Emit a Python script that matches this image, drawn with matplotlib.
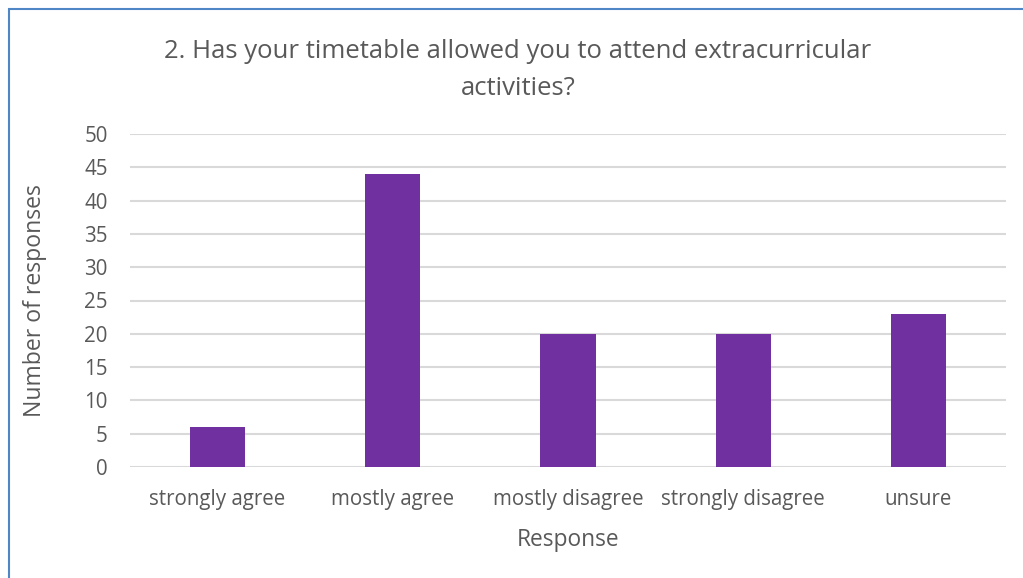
import matplotlib
matplotlib.use("Agg")
import matplotlib.pyplot as plt
from matplotlib.patches import Rectangle

categories = ["strongly agree", "mostly agree", "mostly disagree", "strongly disagree", "unsure"]
values = [6, 44, 20, 20, 23]
yticks = [0, 5, 10, 15, 20, 25, 30, 35, 40, 45, 50]

title = "2. Has your timetable allowed you to attend extracurricular\nactivities?"
xlabel = "Response"
ylabel = "Number of responses"

W, H = 1023, 578
fig = plt.figure(figsize=(W / 100, H / 100), dpi=100)
plt.rcParams['font.family'] = ['Open Sans', 'DejaVu Sans']
txt = "#595959"

ax = fig.add_axes([130 / W, 1 - 467 / H, (1006 - 130) / W, (467 - 134) / H])
x = list(range(len(categories)))
ax.bar(x, values, width=0.315, color="#7030A0", zorder=3)
ax.set_xlim(-0.5, len(categories) - 0.5)
ax.set_ylim(0, 50)
ax.set_yticks(yticks)
ax.set_xticks(x)
ax.set_xticklabels(categories)
ax.tick_params(axis="both", length=0, colors=txt, labelsize=14.8)
ax.tick_params(axis="x", pad=16)
ax.tick_params(axis="y", pad=16)
ax.grid(axis="y", color="#d9d9d9", linewidth=1.5, zorder=0)
for s in ax.spines.values():
    s.set_visible(False)

fig.text(35 / W, 1 - 301 / H, ylabel, rotation=90, ha="center", va="center", color=txt, fontsize=16.6)
fig.text(568 / W, 1 - 540 / H, xlabel, ha="center", va="center", color=txt, fontsize=16.4)
fig.text(518 / W, 1 - 70 / H, title, ha="center", va="center", color=txt, fontsize=18.5, linespacing=1.58)

fig.patches.append(Rectangle((9 / W, -0.1), 1.2, 1 - 9 / H + 0.1, transform=fig.transFigure,
                             fill=False, edgecolor="#4F86C6", linewidth=1.5, figure=fig))

fig.savefig("out.png", dpi=100)
